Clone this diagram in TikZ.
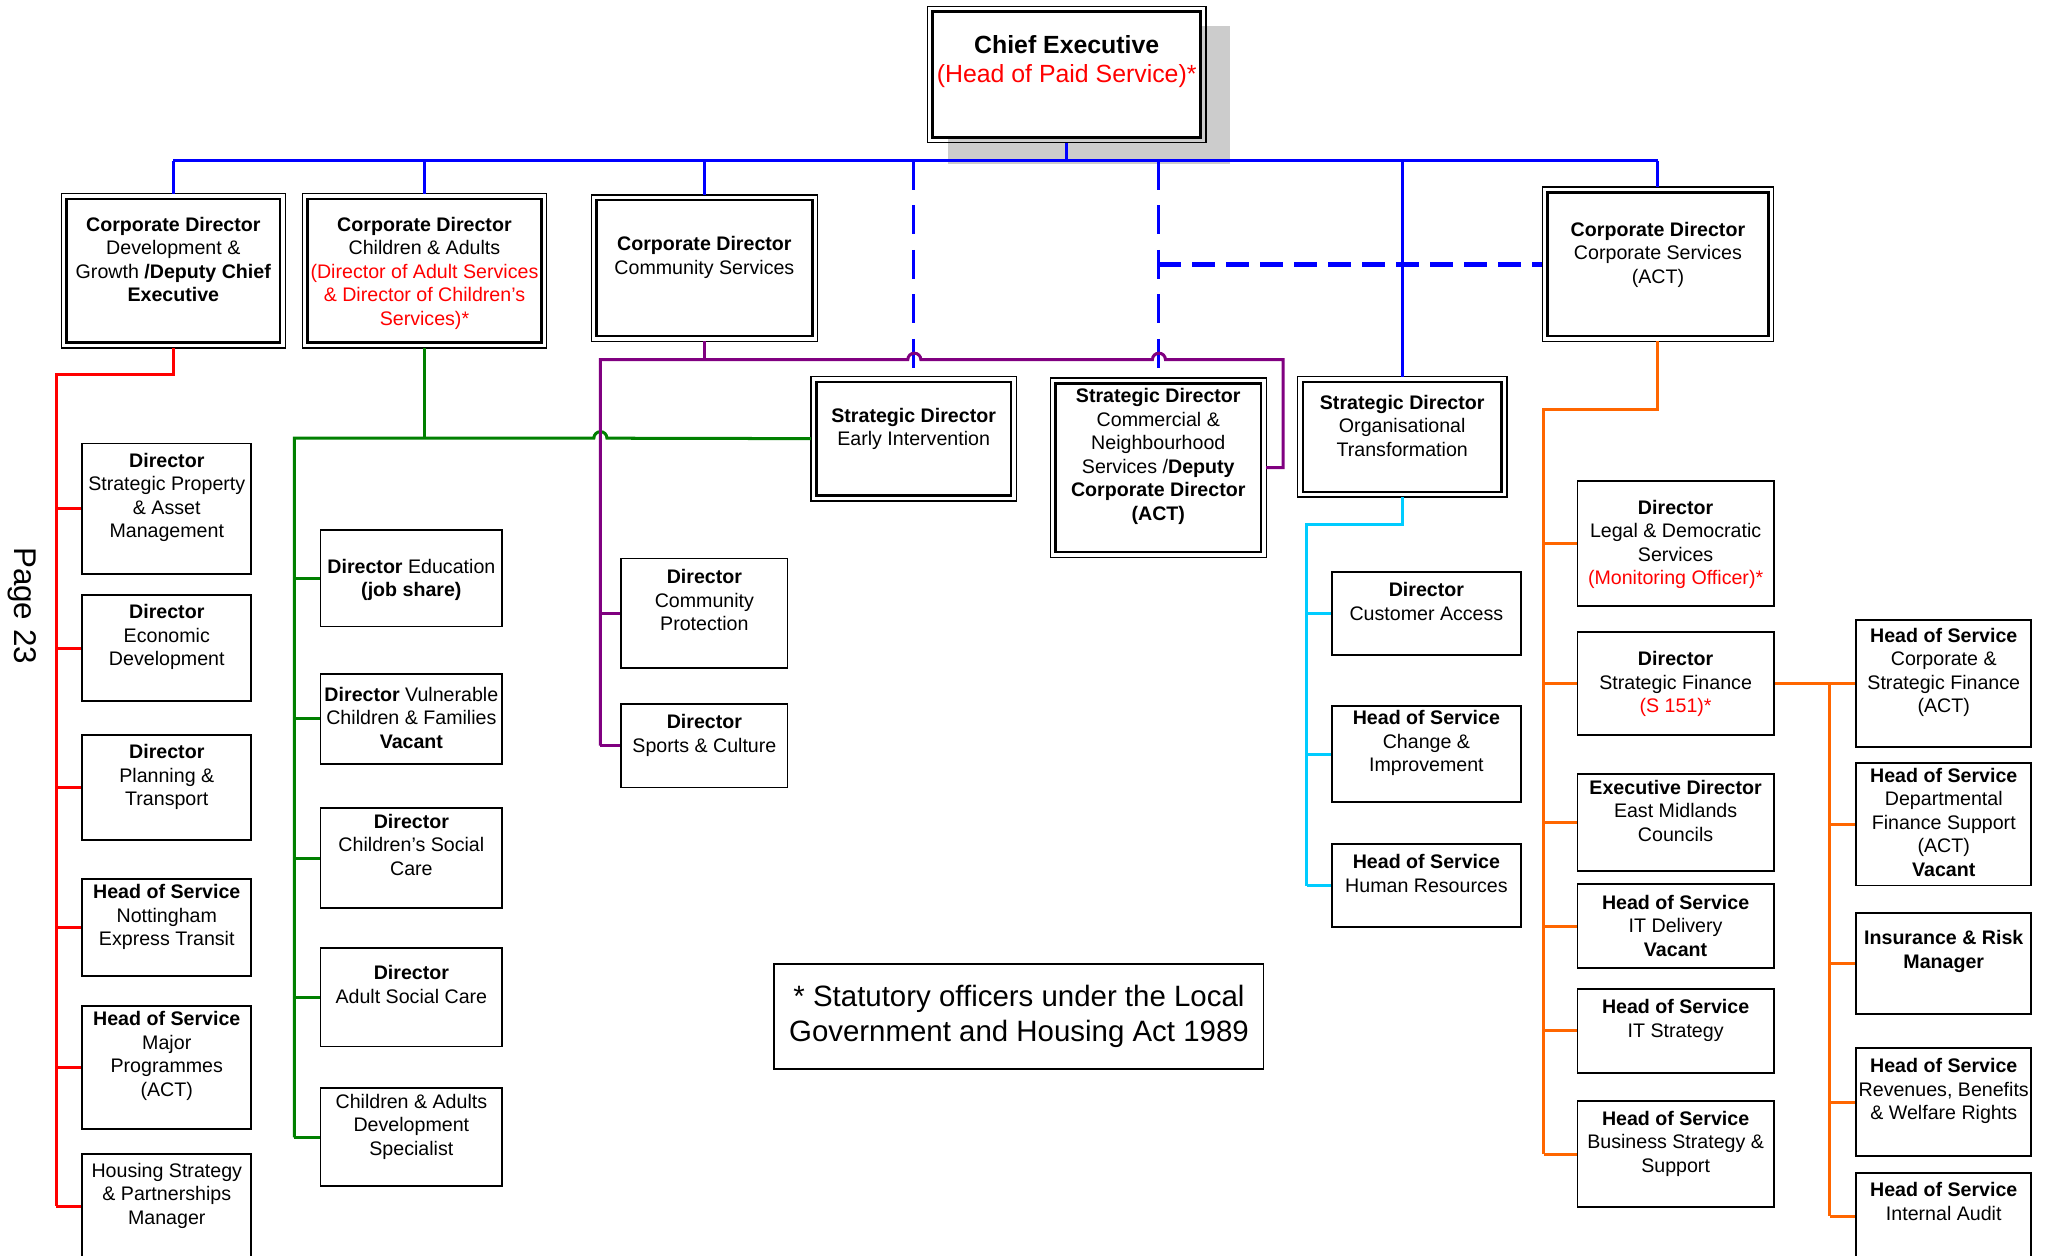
\documentclass[tikz,border=0pt]{standalone}
\usepackage{fontspec}
\setmainfont{Liberation Sans}
\definecolor{orgred}{RGB}{255,0,0}
\definecolor{orggreen}{RGB}{0,128,0}
\definecolor{orgpurple}{RGB}{128,0,128}
\definecolor{orgcyan}{RGB}{0,204,255}
\definecolor{orgorange}{RGB}{255,102,0}
\definecolor{orgblue}{RGB}{0,0,255}
\definecolor{ceshadow}{RGB}{204,204,204}

\begin{document}
\begin{tikzpicture}[x=1pt,y=-1pt,
    every node/.style={inner sep=0pt},
    box/.style={draw,line width=1.4pt,fill=white},
    lab/.style={anchor=north,align=center,font=\fontsize{15}{18}\selectfont},
    post/.style n args={4}{box,minimum width=#1,minimum height=#2,label={[lab,yshift={5.3-#3}]north:{#4}}},
    dpost/.style n args={4}{post={#1}{#2}{#3}{#4},line width=2pt,outer sep=4pt},
    link/.style={line width=2.3pt}]
    \useasboundingbox (0,0) rectangle (1568,960);
    \fill[ceshadow] (725,20) rectangle (940,125);

    % top of the tree
    \node[box,line width=2pt,outer sep=4pt,minimum width=205,minimum height=96,
        label={[lab,font=\fontsize{19}{22}\selectfont,yshift=-22]north:{\textbf{Chief Executive}\\\textcolor{orgred}{(Head of Paid Service)*}}}] (ce) at (815.5,57) {};
    \node[dpost={163}{110}{23}{\textbf{Corporate Director}\\Development \&\\Growth \textbf{/Deputy Chief}\\\textbf{Executive}}] (dg) at (132.5,207) {};
    \node[dpost={179}{110}{23}{\textbf{Corporate Director}\\Children \& Adults\\\textcolor{orgred}{(Director of Adult Services}\\\textcolor{orgred}{\& Director of Children's}\\\textcolor{orgred}{Services)*}}] (ca) at (324.5,207) {};
    \node[dpost={165}{104}{37}{\textbf{Corporate Director}\\Community Services}] (cs) at (538.5,205) {};
    \node[dpost={149}{87}{29}{\textbf{Strategic Director}\\Early Intervention}] (ei) at (698.5,335.5) {};
    \node[dpost={157}{129}{13}{\textbf{Strategic Director}\\Commercial \&\\Neighbourhood\\Services /\textbf{Deputy}\\\textbf{Corporate Director}\\\textbf{(ACT)}}] (cn) at (885.5,357.5) {};
    \node[dpost={152}{84}{19}{\textbf{Strategic Director}\\Organisational\\Transformation}] (ot) at (1072,334) {};
    \node[dpost={169}{110}{32}{\textbf{Corporate Director}\\Corporate Services\\(ACT)}] (co) at (1267.5,202) {};
    \foreach \n in {ce,dg,ca,cs,ei,cn,ot,co}
        \draw[line width=1pt] (\n.north west) rectangle (\n.south east);

    % columns
    \foreach \n/\y/\h/\o/\t in {
        prop/389/100/13/{\textbf{Director}\\Strategic Property\\\& Asset\\Management},
        econ/495.5/81/13/{\textbf{Director}\\Economic\\Development},
        plan/602/80/13/{\textbf{Director}\\Planning \&\\Transport},
        net/709/74/10/{\textbf{Head of Service}\\Nottingham\\Express Transit},
        major/816/94/10/{\textbf{Head of Service}\\Major\\Programmes\\(ACT)},
        hous/922/80/13/{Housing Strategy\\\& Partnerships\\Manager}}
        \node[post={129}{\h}{\o}{\t}] (\n) at (127.5,\y) {};
    \foreach \n/\y/\h/\o/\t in {
        edu/442/74/28/{\textbf{Director} Education\\\textbf{(job share)}},
        vuln/549.5/69/16/{\textbf{Director} Vulnerable\\Children \& Families\\\textbf{Vacant}},
        csc/656/76/10/{\textbf{Director}\\Children’s Social\\Care},
        asc/762.5/75/19/{\textbf{Director}\\Adult Social Care},
        cad/869.5/75/10/{Children \& Adults\\Development\\Specialist}}
        \node[post={139}{\h}{\o}{\t}] (\n) at (314.5,\y) {};
    \foreach \n/\y/\h/\o/\t in {
        prot/469/84/14/{\textbf{Director}\\Community\\Protection},
        sport/570/64/14/{\textbf{Director}\\Sports \& Culture}}
        \node[post={127}{\h}{\o}{\t}] (\n) at (538.5,\y) {};
    \foreach \n/\y/\h/\o/\t in {
        cust/469/64/14/{\textbf{Director}\\Customer Access},
        chg/576.5/73/9/{\textbf{Head of Service}\\Change \&\\Improvement},
        hr/677/64/14/{\textbf{Head of Service}\\Human Resources}}
        \node[post={145}{\h}{\o}{\t}] (\n) at (1090.5,\y) {};
    \foreach \n/\y/\h/\o/\t in {
        legal/415.5/95/20/{\textbf{Director}\\Legal \& Democratic\\Services\\\textcolor{orgred}{(Monitoring Officer)*}},
        sfin/522.5/79/21/{\textbf{Director}\\Strategic Finance\\\textcolor{orgred}{(S 151)*}},
        emc/629/74/10/{\textbf{Executive Director}\\East Midlands\\Councils},
        itd/708/64/14/{\textbf{Head of Service}\\IT Delivery\\\textbf{Vacant}},
        its/788/64/14/{\textbf{Head of Service}\\IT Strategy},
        bss/882.5/81/13/{\textbf{Head of Service}\\Business Strategy \&\\Support}}
        \node[post={150}{\h}{\o}{\t}] (\n) at (1281,\y) {};
    \foreach \n/\y/\h/\o/\t in {
        csf/522.5/97/12/{\textbf{Head of Service}\\Corporate \&\\Strategic Finance\\(ACT)},
        dfs/630/94/10/{\textbf{Head of Service}\\Departmental\\Finance Support\\(ACT)\\\textbf{Vacant}},
        ins/736.5/77/19/{\textbf{Insurance \& Risk}\\\textbf{Manager}},
        rev/842.5/83/14/{\textbf{Head of Service}\\Revenues, Benefits\\\& Welfare Rights},
        ia/930/66/13/{\textbf{Head of Service}\\Internal Audit}}
        \node[post={134}{\h}{\o}{\t}] (\n) at (1486,\y) {};

    \node[box,minimum width=374,minimum height=80,align=center,font=\fontsize{22.5}{27}\selectfont] (note) at (779,777)
        {* Statutory officers under the Local\\Government and Housing Act 1989};
    \node[rotate=-90,font=\fontsize{24}{28}\selectfont] (page) at (17,463) {Page 23};

    % blue lines from the chief executive
    \coordinate (bus) at (816,123);
    \draw[link,orgblue] (ce) -- (ce |- bus);
    \draw[link,orgblue] (dg |- bus) -- (co |- bus);
    \foreach \n in {dg,ca,cs,ot,co}
        \draw[link,orgblue] (\n |- bus) -- (\n);
    \foreach \n in {ei,cn}
        \draw[link,orgblue,dash pattern=on 22pt off 12pt] (\n |- bus) -- (\n);
    \draw[orgblue,line width=3.5pt,dash pattern=on 17pt off 9pt] (cn |- co) -- (co);

    % red
    \coordinate (rb) at (43,286);
    \draw[link,orgred] (dg) |- (rb) -- (rb |- hous);
    \foreach \n in {prop,econ,plan,net,major,hous}
        \draw[link,orgred] (rb |- \n) -- (\n);

    % green
    \coordinate (gb) at (225,335);
    \draw[link,orggreen] (ca) -- (ca |- gb);
    \draw[link,orggreen] (gb |- cad) -- (gb) -- (454,335) arc[start angle=180,end angle=360,radius=5] -- (ei);
    \foreach \n in {edu,vuln,csc,asc,cad}
        \draw[link,orggreen] (gb |- \n) -- (\n);

    % purple
    \coordinate (pv) at (459,275);
    \draw[link,orgpurple] (cs) -- (cs |- pv);
    \draw[link,orgpurple] (pv |- sport) -- (pv) -- (694,275) arc[start angle=180,end angle=360,radius=5]
        -- (881,275) arc[start angle=180,end angle=360,radius=5] -- (981,275) |- (cn);
    \foreach \n in {prot,sport}
        \draw[link,orgpurple] (pv |- \n) -- (\n);

    % cyan
    \coordinate (cb) at (999,401);
    \draw[link,orgcyan] (ot) |- (cb) -- (cb |- hr);
    \foreach \n in {cust,chg,hr}
        \draw[link,orgcyan] (cb |- \n) -- (\n);

    % orange
    \coordinate (ob) at (1180,313);
    \draw[link,orgorange] (co) |- (ob) -- (ob |- bss);
    \foreach \n in {legal,sfin,emc,itd,its,bss}
        \draw[link,orgorange] (ob |- \n) -- (\n);
    \coordinate (fb) at (1399,522);
    \draw[link,orgorange] (sfin) -- (fb |- sfin) -- (fb |- ia);
    \foreach \n in {csf,dfs,ins,rev,ia}
        \draw[link,orgorange] (fb |- \n) -- (\n);
\end{tikzpicture}
\end{document}
